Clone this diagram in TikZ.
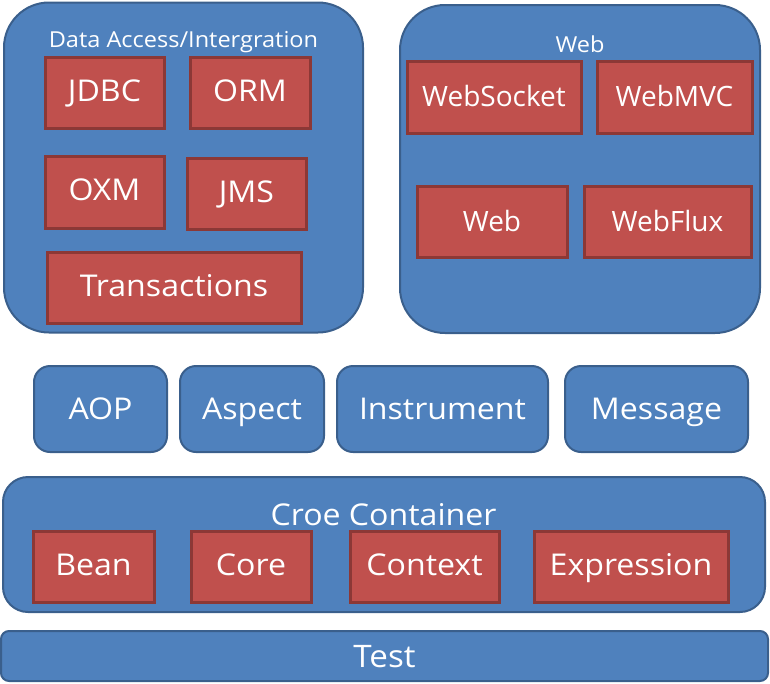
\documentclass[tikz,border=0pt]{standalone}
\usepackage{fontspec}
\setmainfont{Open Sans}[FakeStretch=1.07]
\newfontfamily\plainopen{Open Sans}
\definecolor{bfill}{HTML}{4F81BD}
\definecolor{bline}{HTML}{3A5F8C}
\definecolor{rfill}{HTML}{C0504D}
\definecolor{rline}{HTML}{8C3836}
\tikzset{
  bluebox/.style={draw=bline, fill=bfill, line width=2pt, inner sep=0pt},
  redbox/.style={draw=rline, fill=rfill, line width=3pt, text=white, inner sep=0pt,
    text height=22pt, text depth=4.6pt, font=\fontsize{30}{36}\selectfont},
  webbox/.style={redbox, text height=21pt, text depth=3pt, font=\plainopen\fontsize{28}{34}\selectfont},
  midbox/.style={bluebox, rounded corners=16pt, text=white,
    text height=22pt, text depth=2pt, font=\fontsize{30}{36}\selectfont},
  ttl/.style={text=white, inner sep=0pt, anchor=base}
}
\begin{document}
\begin{tikzpicture}[x=1pt,y=-1pt]
\useasboundingbox (0,0) rectangle (770,683);
% Data access
\node[bluebox, rounded corners=45pt, minimum width=359, minimum height=330] (da) at (183.5,167.5) {};
\node[ttl, font=\fontsize{22}{27}\selectfont] (dat) at (183.5,47) {Data Access/Intergration};
\node[redbox, minimum width=119, minimum height=71] (jdbc) at (104.5,93) {JDBC};
\node[redbox, minimum width=120, minimum height=71] (orm) at (250,93) {ORM};
\node[redbox, minimum width=119, minimum height=72] (oxm) at (104.5,192) {OXM};
\node[redbox, minimum width=119, minimum height=71] (jms) at (246.5,193.5) {JMS};
\node[redbox, minimum width=254, minimum height=71] (tx) at (174,287.5) {Transactions};
% Web
\node[bluebox, rounded corners=45pt, minimum width=360, minimum height=328] (web) at (580,169) {};
\node[ttl, font=\fontsize{22}{27}\selectfont] (webt) at (580,52) {Web};
\node[webbox, minimum width=174, minimum height=72] (ws) at (494,97) {WebSocket};
\node[webbox, minimum width=155, minimum height=72] (mvc) at (674.5,97) {WebMVC};
\node[webbox, minimum width=150, minimum height=71] (w) at (492,222) {Web};
\node[webbox, minimum width=167, minimum height=71] (flux) at (667.5,222) {WebFlux};
% middle row
\node[midbox, minimum width=133, minimum height=86] (aop) at (100.5,409) {AOP};
\node[midbox, minimum width=144, minimum height=86] (asp) at (252,409) {Aspect};
\node[midbox, minimum width=211, minimum height=86] (ins) at (442.5,409) {Instrument};
\node[midbox, minimum width=183, minimum height=86] (msg) at (656.5,409) {Message};
% core container
\node[bluebox, rounded corners=25pt, minimum width=762, minimum height=135] (cc) at (384,544.5) {};
\node[ttl, font=\fontsize{30}{36}\selectfont] (cct) at (383.5,525) {Croe Container};
\node[redbox, minimum width=121, minimum height=71] (bean) at (93.5,566.5) {Bean};
\node[redbox, minimum width=120, minimum height=71] (core) at (251,566.5) {Core};
\node[redbox, minimum width=149, minimum height=71] (ctx) at (424.5,566.5) {Context};
\node[redbox, minimum width=194, minimum height=71] (expr) at (631,566.5) {Expression};
% test
\node[bluebox, rounded corners=8pt, minimum width=767, minimum height=50, text=white,
  text height=22pt, text depth=0pt, font=\fontsize{31}{36}\selectfont] (test) at (384.5,656) {Test};
\end{tikzpicture}
\end{document}
